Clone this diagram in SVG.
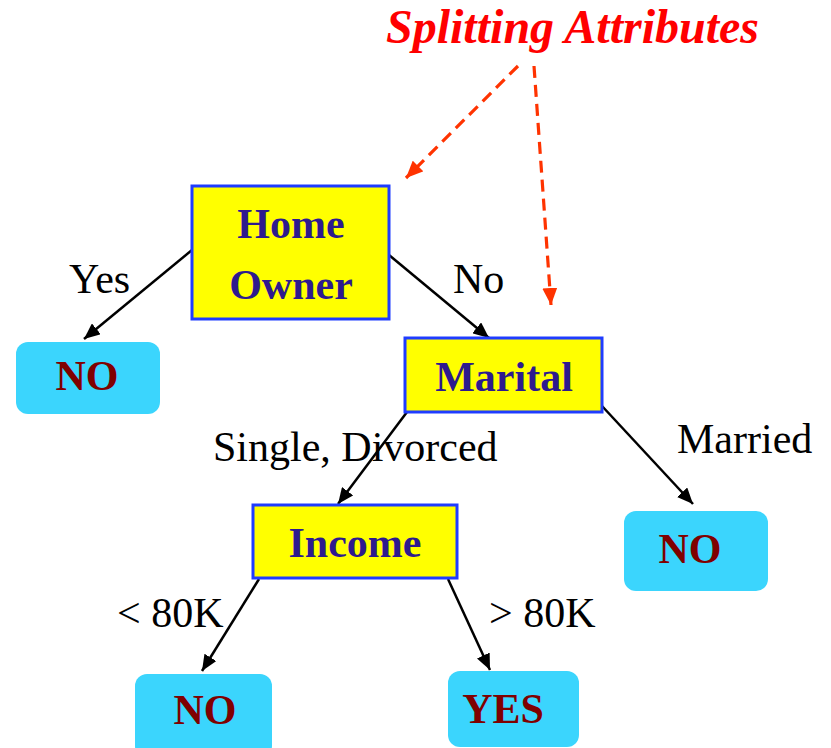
<svg xmlns="http://www.w3.org/2000/svg" width="831" height="748" viewBox="0 0 831 748">
  <style>
    .attr rect { fill: #ffff00; stroke: #1f3cff; stroke-width: 3; }
    .attr text { font-family: "Liberation Serif", "Times New Roman", serif; font-weight: bold; font-size: 42px; fill: #2e1a8e; text-anchor: middle; }
    .leaf rect { fill: #3bd5fd; stroke: none; }
    .leaf text { font-family: "Liberation Serif", "Times New Roman", serif; font-weight: bold; font-size: 42px; fill: #800000; text-anchor: middle; }
    .lbl { font-family: "Liberation Serif", "Times New Roman", serif; font-size: 42px; fill: #000; }
    .edge { stroke: #000; stroke-width: 2.5; fill: none; marker-end: url(#arrow); }
    .pointer { stroke: #ff3300; stroke-width: 3.2; fill: none; stroke-dasharray: 12 7; marker-end: url(#redArrow); }
    .title { font-family: "Liberation Serif", "Times New Roman", serif; font-weight: bold; font-style: italic; font-size: 48px; fill: #ff0000; }
  </style>
  <defs>
    <marker id="arrow" markerUnits="userSpaceOnUse" markerWidth="16" markerHeight="14" refX="16" refY="7" orient="auto">
      <path d="M0,0 L16,7 L0,14 z" fill="#000"/>
    </marker>
    <marker id="redArrow" markerUnits="userSpaceOnUse" markerWidth="17" markerHeight="15" refX="17" refY="7.5" orient="auto">
      <path d="M0,0 L17,7.5 L0,15 z" fill="#ff3300"/>
    </marker>
  </defs>

  <rect width="831" height="748" fill="#ffffff"/>

  <!-- callout title and dashed pointers -->
  <text class="title" x="386" y="43">Splitting Attributes</text>
  <g id="pointers">
    <line class="pointer" x1="518" y1="66" x2="406" y2="178"/>
    <line class="pointer" x1="534" y1="66" x2="551" y2="305"/>
  </g>

  <!-- tree edges -->
  <g id="connectors">
    <line class="edge" x1="192" y1="250" x2="84" y2="339"/>
    <line class="edge" x1="389" y1="255" x2="489" y2="338"/>
    <line class="edge" x1="407" y1="412" x2="338" y2="504"/>
    <line class="edge" x1="602" y1="406" x2="693" y2="504"/>
    <line class="edge" x1="259" y1="579" x2="202" y2="671"/>
    <line class="edge" x1="448" y1="579" x2="490" y2="670"/>
  </g>

  <!-- edge labels -->
  <g id="edge-labels">
    <text class="lbl" x="69" y="293">Yes</text>
    <text class="lbl" x="453" y="293">No</text>
    <text class="lbl" x="213" y="461">Single, Divorced</text>
    <text class="lbl" x="677" y="453">Married</text>
    <text class="lbl" x="117" y="627">&lt; 80K</text>
    <text class="lbl" x="489" y="627">&gt; 80K</text>
  </g>

  <!-- attribute nodes -->
  <g id="home-owner" class="attr">
    <rect x="192" y="186" width="197" height="133"/>
    <text x="291" y="238">Home</text>
    <text x="291" y="299">Owner</text>
  </g>
  <g id="marital" class="attr">
    <rect x="405" y="338" width="197" height="74"/>
    <text x="504" y="391">Marital</text>
  </g>
  <g id="income" class="attr">
    <rect x="253" y="505" width="204" height="73"/>
    <text x="355" y="557">Income</text>
  </g>

  <!-- leaf nodes -->
  <g id="leaf-home-yes" class="leaf">
    <rect x="16" y="342" width="144" height="72" rx="12"/>
    <text x="87" y="390">NO</text>
  </g>
  <g id="leaf-married" class="leaf">
    <rect x="624" y="511" width="144" height="80" rx="12"/>
    <text x="690" y="563">NO</text>
  </g>
  <g id="leaf-low-income" class="leaf">
    <rect x="135" y="674" width="137" height="84" rx="12"/>
    <text x="205" y="724">NO</text>
  </g>
  <g id="leaf-high-income" class="leaf">
    <rect x="448" y="671" width="131" height="76" rx="12"/>
    <text x="503" y="723">YES</text>
  </g>
</svg>
